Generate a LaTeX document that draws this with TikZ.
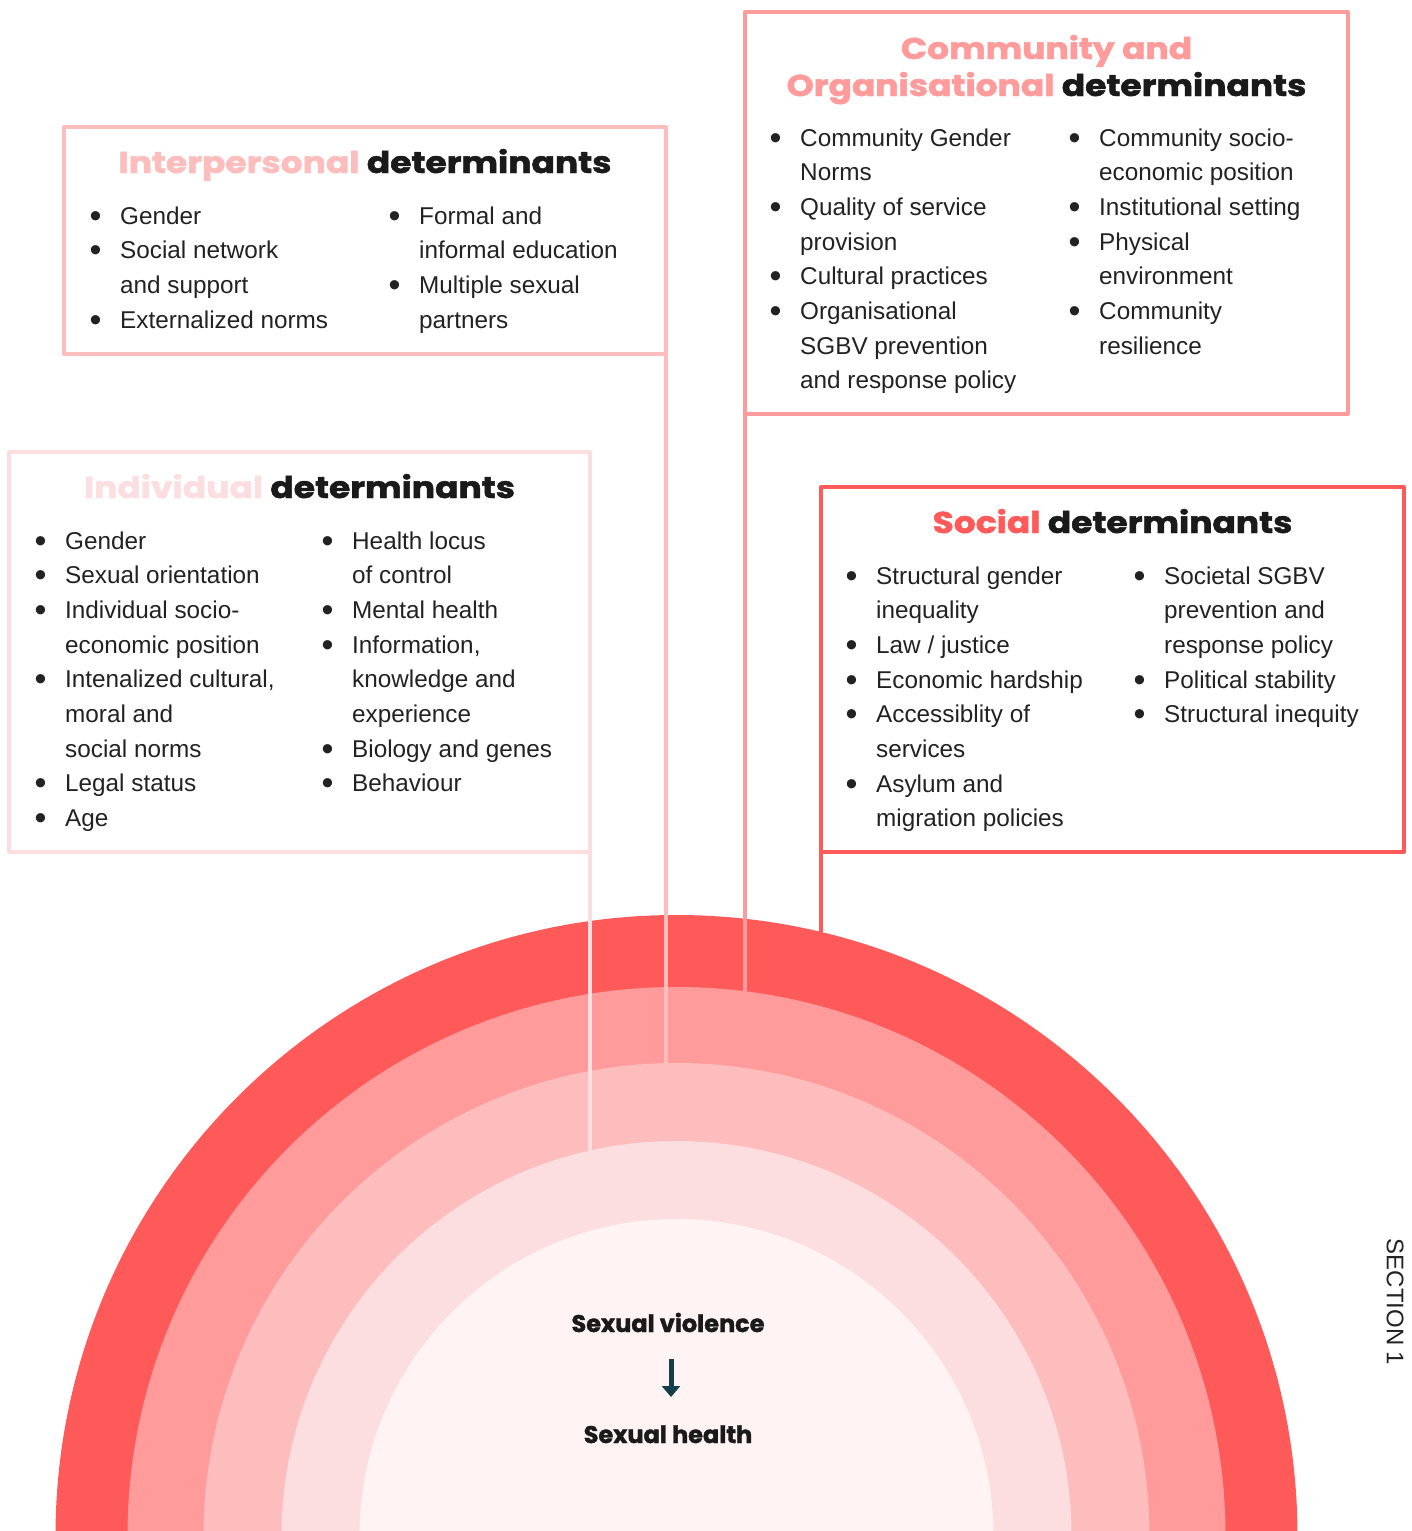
\documentclass[tikz,border=0pt]{standalone}
\usepackage{fontspec}
\setmainfont{Liberation Sans}
\newfontfamily\headfont{Poppins}[BoldFeatures={FakeBold=1.6}]
\usetikzlibrary{arrows.meta}
\definecolor{socialC}{HTML}{FF5A5A}
\definecolor{commC}{HTML}{FF9B9B}
\definecolor{interC}{HTML}{FDBDBD}
\definecolor{indivC}{HTML}{FDDEE0}
\definecolor{coreC}{HTML}{FFF3F3}
\definecolor{bodyC}{HTML}{222222}
\definecolor{headC}{HTML}{1A1A1A}
\definecolor{arrowC}{HTML}{153E4B}
\newcommand{\detlist}[1]{\begin{tabular}[t]{@{}p{29pt}@{}l@{}}#1\end{tabular}}
\newcommand{\bu}{\hspace*{-1.6pt}\raisebox{-3pt}{\scalebox{1.4}{\textbullet}}}
\newcommand{\wide}[1]{\scalebox{1.15}[1]{#1}}
\tikzset{
  detbox/.style={draw, line width=4pt, fill=white, inner sep=0pt, outer sep=0pt},
  headtxt/.style={anchor=base, inner sep=0pt, text=headC, font=\headfont\bfseries\fontsize{30pt}{36pt}\selectfont},
  itemtxt/.style={anchor=base west, inner sep=0pt, text=bodyC, font=\fontsize{24.3pt}{34.7pt}\selectfont},
  midtxt/.style={anchor=base, inner sep=0pt, text=headC, font=\headfont\bfseries\fontsize{24pt}{30pt}\selectfont},
  linkline/.style={line width=4pt}
}
\begin{document}
\begin{tikzpicture}[x=1pt, y=-1pt, line join=round]
	\useasboundingbox (0,0) rectangle (1411,1531);
	\begin{scope}
		\clip (0,0) rectangle (1411,1531);
		\fill[socialC] (676.5,1536) circle (621pt);
		\fill[commC] (676.5,1536) circle (549pt);
		\fill[interC] (676.5,1536) circle (473pt);
		\fill[indivC] (676.5,1536) circle (395pt);
		\fill[coreC] (676.5,1536) circle (317pt);
	\end{scope}

	\node[detbox, draw=interC, minimum width=602pt, minimum height=227pt] (inter) at (365,240.5) {};
	\node[detbox, draw=commC, minimum width=603pt, minimum height=402pt] (comm) at (1046.5,213) {};
	\node[detbox, draw=indivC, minimum width=581pt, minimum height=400pt] (indiv) at (299.5,652) {};
	\node[detbox, draw=socialC, minimum width=583pt, minimum height=365pt] (social) at (1112.5,669.5) {};

	\coordinate (indivEnd) at (590,1150.6);
	\coordinate (interEnd) at (666,1063.1);
	\coordinate (commEnd) at (745,991.3);
	\coordinate (socialEnd) at (821,932);
	\draw[linkline, indivC] (indiv.south east) -- (indivEnd);
	\draw[linkline, interC] (inter.south east) -- (interEnd);
	\draw[linkline, commC] (comm.south west) -- (commEnd);
	\draw[linkline, socialC] (social.south west) -- (socialEnd);

	\node[headtxt] (interHead) at (365,173) {\wide{\textcolor{interC}{Interpersonal} determinants}};
	\node[headtxt] (commHeadA) at (1046.5,59) {\wide{\textcolor{commC}{Community and}}};
	\node[headtxt] (commHeadB) at (1046.5,96) {\wide{\textcolor{commC}{Organisational} determinants}};
	\node[headtxt] (indivHead) at (299.5,498) {\wide{\textcolor{indivC}{Individual} determinants}};
	\node[headtxt] (socialHead) at (1112.5,533) {\wide{\textcolor{socialC}{Social} determinants}};

	\node[itemtxt] (interA) at (91,224) {\detlist{\bu & Gender\\ \bu & Social network\\ & and support\\ \bu & Externalized norms}};
	\node[itemtxt] (interB) at (390,224) {\detlist{\bu & Formal and\\ & informal education\\ \bu & Multiple sexual\\ & partners}};

	\node[itemtxt] (commA) at (771,146) {\detlist{\bu & Community Gender\\ & Norms\\ \bu & Quality of service\\ & provision\\ \bu & Cultural practices\\ \bu & Organisational\\ & SGBV prevention\\ & and response policy}};
	\node[itemtxt] (commB) at (1070,146) {\detlist{\bu & Community socio-\\ & economic position\\ \bu & Institutional setting\\ \bu & Physical\\ & environment\\ \bu & Community\\ & resilience}};

	\node[itemtxt] (indivA) at (36,549) {\detlist{\bu & Gender\\ \bu & Sexual orientation\\ \bu & Individual socio-\\ & economic position\\ \bu & Intenalized cultural,\\ & moral and\\ & social norms\\ \bu & Legal status\\ \bu & Age}};
	\node[itemtxt] (indivB) at (323,549) {\detlist{\bu & Health locus\\ & of control\\ \bu & Mental health\\ \bu & Information,\\ & knowledge and\\ & experience\\ \bu & Biology and genes\\ \bu & Behaviour}};

	\node[itemtxt] (socialA) at (847,584) {\detlist{\bu & Structural gender\\ & inequality\\ \bu & Law / justice\\ \bu & Economic hardship\\ \bu & Accessiblity of\\ & services\\ \bu & Asylum and\\ & migration policies}};
	\node[itemtxt] (socialB) at (1135,584) {\detlist{\bu & Societal SGBV\\ & prevention and\\ & response policy\\ \bu & Political stability\\ \bu & Structural inequity}};

	\node[midtxt] (violence) at (668,1332) {Sexual violence};
	\node[midtxt] (health) at (668,1443) {Sexual health};
	\coordinate (arrTop) at (671,1359);
	\coordinate (arrTip) at (671,1397);
	\draw[arrowC, line width=5pt, -{Triangle[width=18pt,length=11pt]}] (arrTop) -- (arrTip);

	\node[rotate=-90, inner sep=0pt, text=bodyC, font=\fontsize{24pt}{28pt}\selectfont] (section) at (1395,1302) {SECTION 1};
\end{tikzpicture}
\end{document}
